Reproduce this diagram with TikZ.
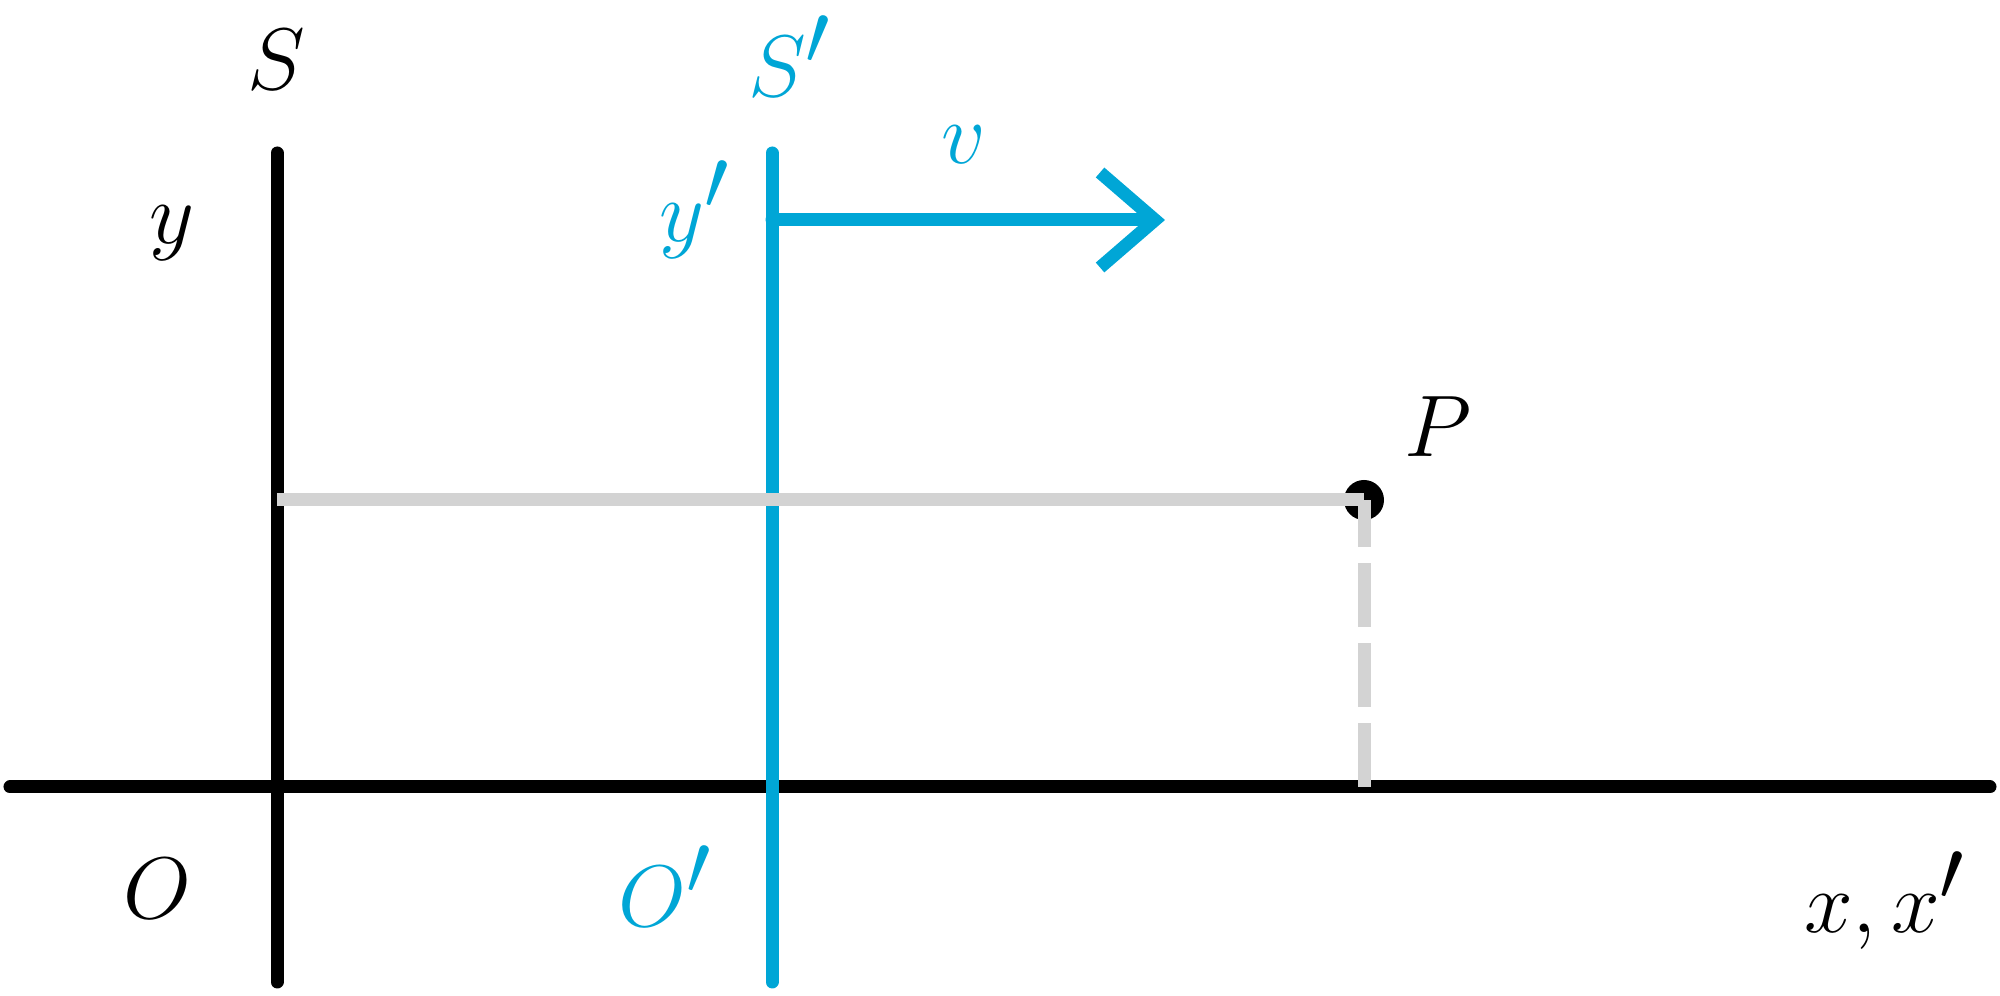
\documentclass[tikz,border=0pt]{standalone}
\usepackage{tikz}
\usetikzlibrary{arrows.meta, positioning}
\definecolor{frameblue}{HTML}{00A6D6}
\definecolor{guidegray}{HTML}{D3D3D3}

\begin{document}
\begin{tikzpicture}[
    axis/.style={line width=3.7pt, line cap=round},
    guide/.style={line width=3.7pt, color=guidegray},
    lbl/.style={font=\fontsize{37}{44}\selectfont, inner sep=0pt},
    vel/.style={axis, color=frameblue, -{Straight Barb[length=5.5mm, width=9.5mm, line width=3.7pt]}}
]
\useasboundingbox (0,0) rectangle (20,9.96);

% Axes of S
\coordinate (xl) at (0.1,2.09);
\coordinate (xr) at (19.9,2.09);
\coordinate (ytop) at (2.77,8.43);
\coordinate (ybot) at (2.77,0.14);
\draw[axis] (xl) -- (xr);
\draw[axis] (ybot) -- (ytop);

% Axis of S'
\coordinate (ptop) at (7.72,8.43);
\coordinate (pbot) at (7.72,0.14);
\draw[axis, color=frameblue] (pbot) -- (ptop);

% Velocity
\coordinate (vstart) at (7.72,7.76);
\coordinate (vend) at (11.65,7.76);
\draw[vel] (vstart) -- (vend);

% Point P and its guides
\node[circle, fill=black, minimum size=4mm, inner sep=0pt] (pt) at (13.64,4.96) {};
\coordinate (pleft) at (2.77,4.96);
\coordinate (pfoot) at (13.64,2.09);
\draw[guide] (pleft) -- (pt.center);
\draw[guide, dash pattern=on 0.64cm off 0.16cm] (pfoot) -- (pt.center);

% Labels
\node[lbl] (lS) at (2.76,9.36) {$S$};
\node[lbl, text=frameblue] (lSp) at (7.9,9.4) {$S'$};
\node[lbl, text=frameblue] (lv) at (9.64,8.51) {$v$};
\node[lbl] (ly) at (1.72,7.63) {$y$};
\node[lbl, text=frameblue] (lyp) at (6.95,7.86) {$y'$};
\node[lbl] (lP) at (14.38,5.69) {$P$};
\node[lbl] (lO) at (1.57,1.07) {$O$};
\node[lbl, text=frameblue] (lOp) at (6.65,1.1) {$O'$};
\node[lbl] (lx) at (18.85,0.95) {$x,x'$};
\end{tikzpicture}
\end{document}
